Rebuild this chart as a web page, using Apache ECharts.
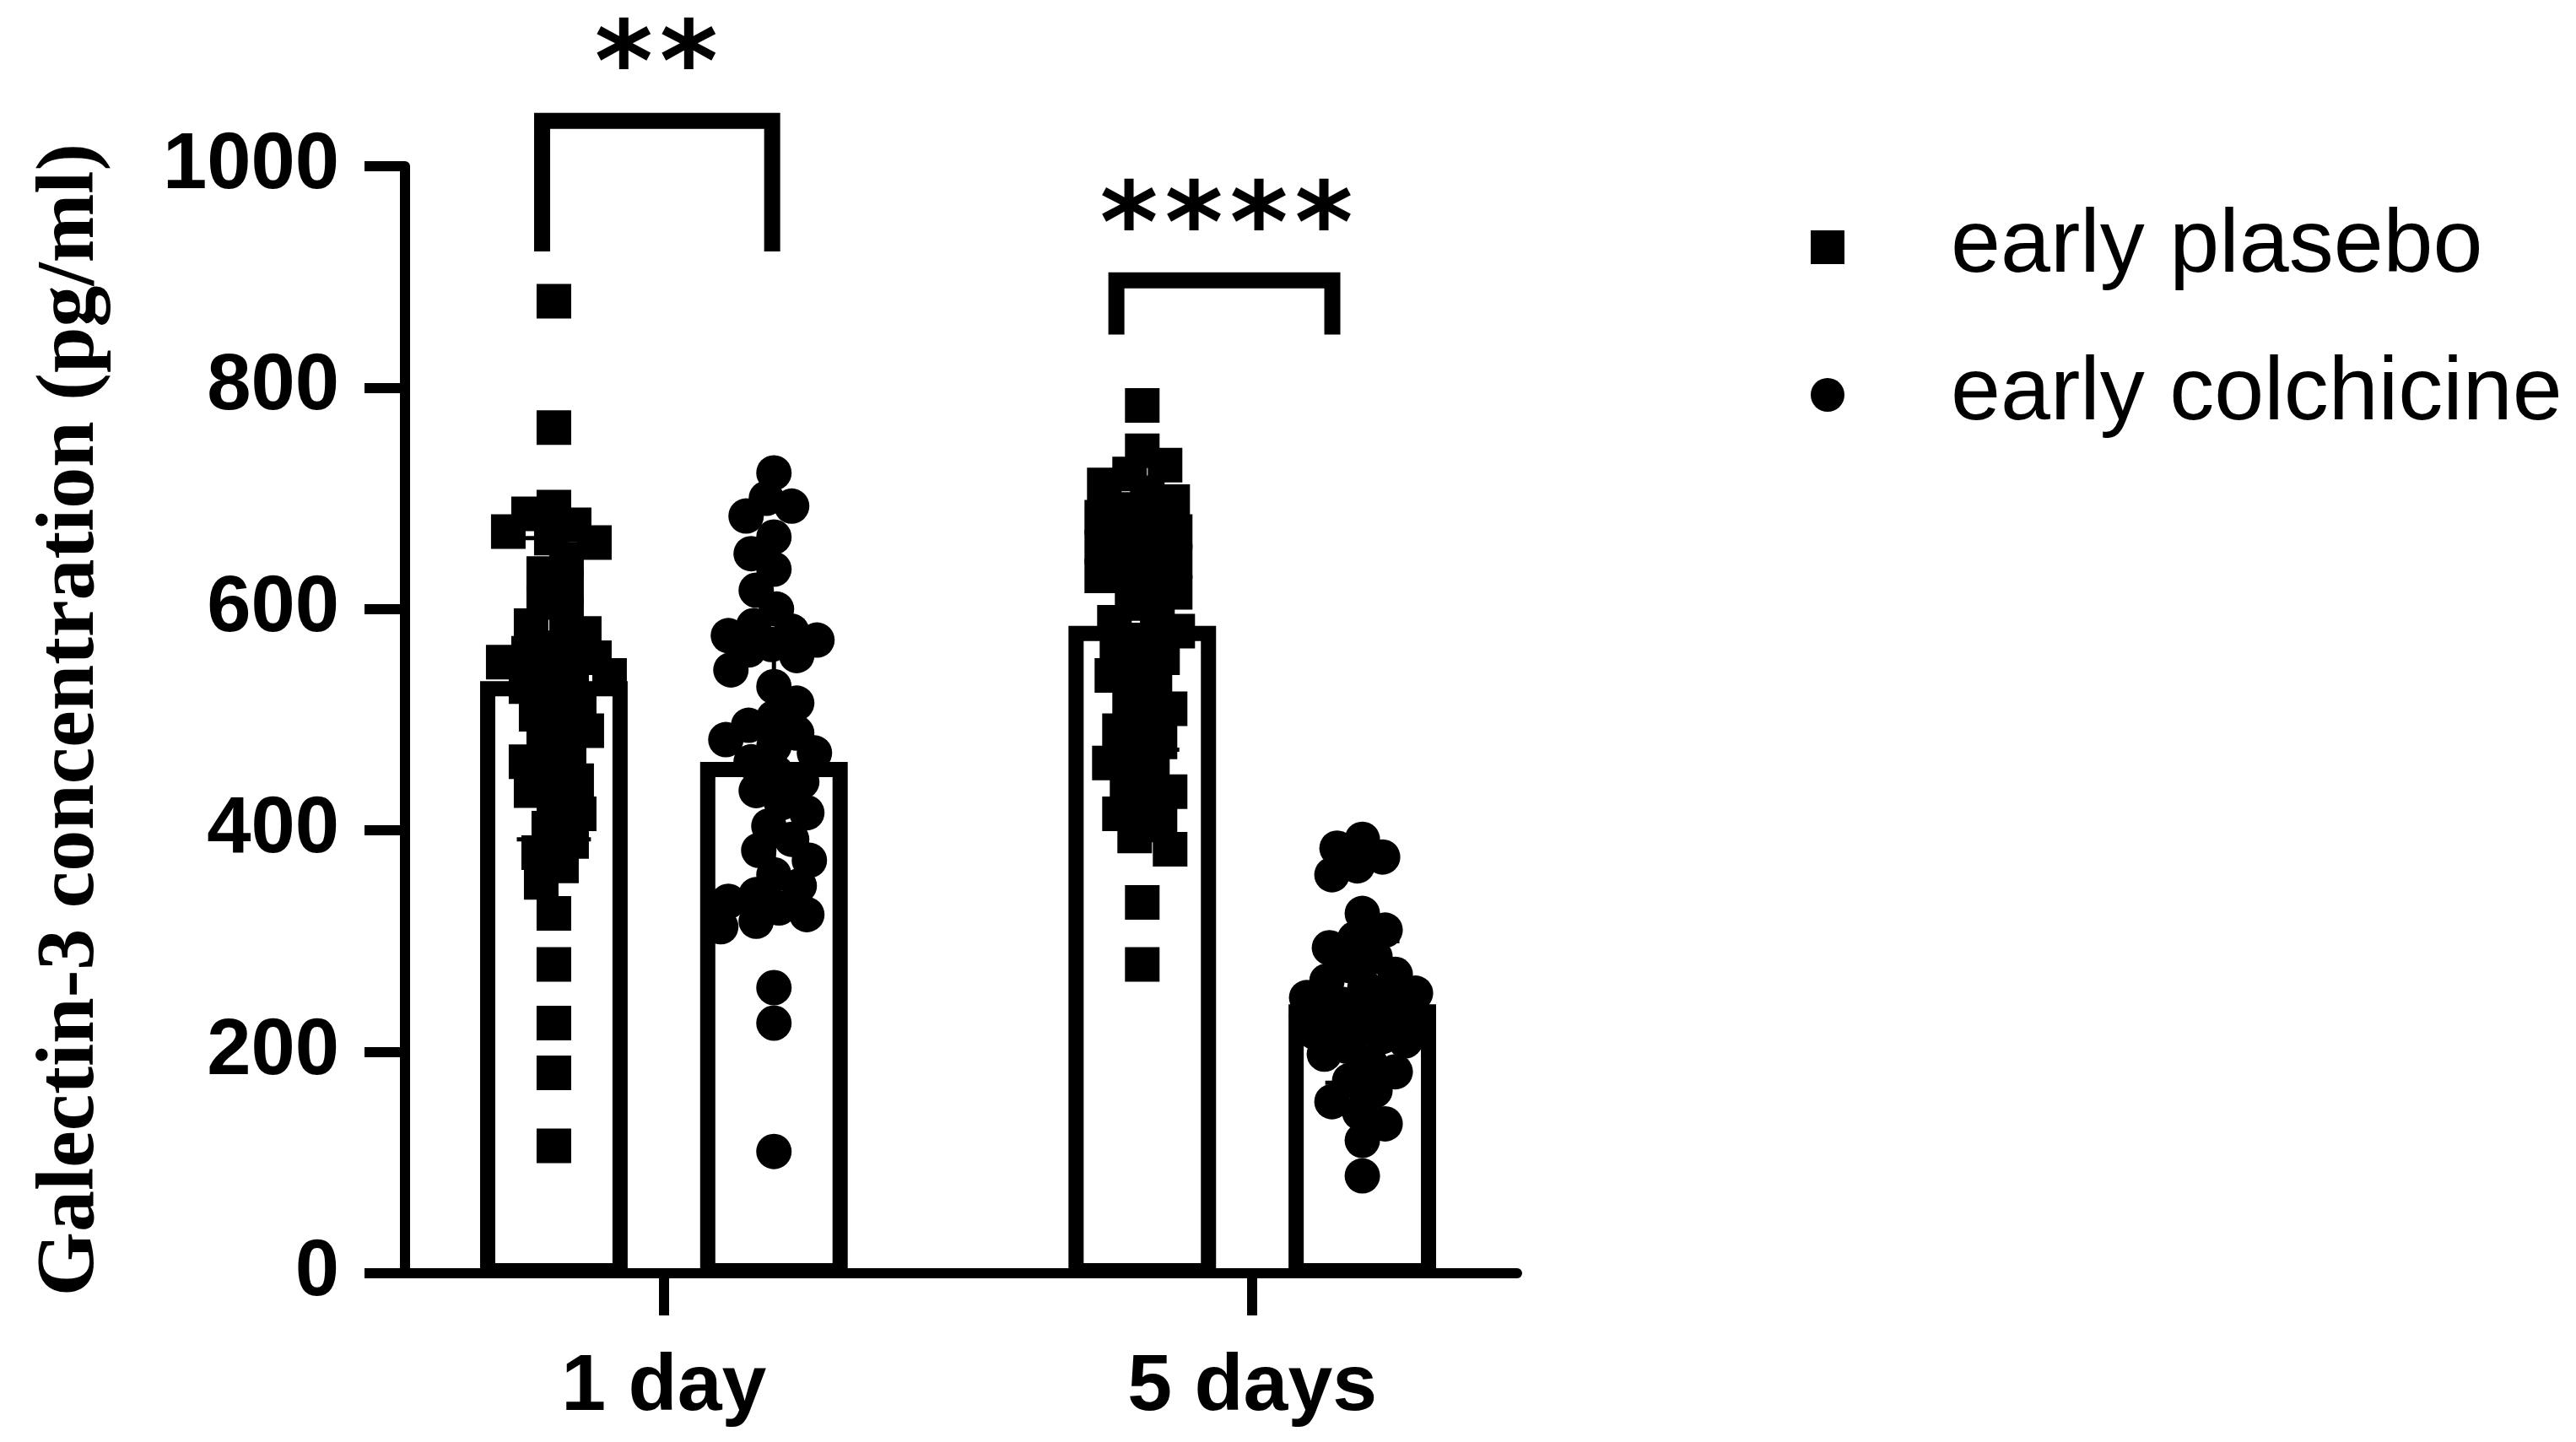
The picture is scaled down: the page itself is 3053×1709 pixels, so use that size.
<!DOCTYPE html>
<html>
<head>
<meta charset="utf-8">
<script src="https://cdn.jsdelivr.net/npm/echarts@6/dist/echarts.min.js"></script>
<style>
html,body{margin:0;padding:0;background:#ffffff;}
#chart{width:3053px;height:1709px;}
</style>
</head>
<body>
<div id="chart"></div>
<script>
// ---------------- data ----------------
const categories = ['1 day', '5 days'];
const groupNames = ['early plasebo', 'early colchicine'];
const yTicks = [0, 200, 400, 600, 800, 1000];

const plaseboMean = [528, 578];
const plaseboSD = [136, 105];
const colchicineMean = [455, 236];
const colchicineSD = [118, 64];

const plasebo1Day = [878, 764, 692, 686, 676, 670, 664, 660, 645, 632, 620, 606, 595, 585, 578, 565, 560, 556, 552, 548, 545, 540, 530, 522, 515, 505, 498, 490, 480, 470, 462, 452, 445, 436, 425, 415, 402, 390, 380, 368, 353, 325, 279, 226, 181, 115];
const colchicine1Day = [723, 700, 693, 684, 665, 650, 636, 617, 600, 585, 580, 576, 572, 568, 563, 558, 545, 530, 515, 502, 495, 488, 482, 476, 470, 462, 452, 444, 436, 425, 416, 404, 392, 382, 373, 360, 350, 342, 336, 330, 324, 318, 313, 258, 226, 110];
const plasebo5Days = [784, 743, 730, 722, 712, 705, 697, 690, 683, 676, 670, 663, 656, 650, 643, 636, 630, 622, 615, 605, 596, 588, 580, 572, 564, 556, 548, 540, 530, 520, 510, 500, 490, 480, 470, 461, 452, 443, 435, 425, 415, 405, 395, 383, 335, 279];
const colchicine5Days = [392, 384, 376, 368, 360, 325, 310, 302, 294, 286, 278, 270, 264, 258, 253, 249, 246, 243, 240, 238, 236, 234, 232, 230, 228, 226, 224, 221, 218, 214, 210, 205, 198, 190, 182, 174, 165, 155, 145, 135, 120, 88];

const significance = ['**', '****'];

// ---------------- layout / style ----------------
const CAT_POS = [1, 2];
const GROUP_OFFSET = [-0.187, 0.187];
const BAR_HALF = 0.1125;
const CAP_HALF = 0.063;
const BRACKETS = [
  { x1: 0.793, x2: 1.184, top: 1041, bottom: 923, starX: 0.987, starY: 1109 },
  { x1: 1.769, x2: 2.136, top: 897, bottom: 848, starX: 1.956, starY: 964 }
];
const STAR_DY = 31;
const STAR_SPACING = 77;

const chart = echarts.init(document.getElementById('chart'), null, { renderer: 'canvas' });

const barData = [];
for (let c = 0; c < categories.length; c++) {
  barData.push([CAT_POS[c] + GROUP_OFFSET[0], plaseboMean[c], plaseboSD[c]]);
  barData.push([CAT_POS[c] + GROUP_OFFSET[1], colchicineMean[c], colchicineSD[c]]);
}

function renderBar(params, api) {
  const x = api.value(0), m = api.value(1);
  const bl = api.coord([x - BAR_HALF, 0]);
  const tr = api.coord([x + BAR_HALF, m]);
  const bottom = bl[1] - 3;
  return {
    type: 'rect',
    shape: { x: bl[0], y: tr[1], width: tr[0] - bl[0], height: bottom - tr[1] },
    style: { fill: '#ffffff', stroke: '#000000', lineWidth: 18 }
  };
}

function renderErr(params, api) {
  const x = api.value(0), m = api.value(1), sd = api.value(2);
  const lo = api.coord([x, m - sd]);
  const hi = api.coord([x, m + sd]);
  const cl = api.coord([x - CAP_HALF, m])[0];
  const cr = api.coord([x + CAP_HALF, m])[0];
  const st = { stroke: '#000000', lineWidth: 5 };
  return {
    type: 'group',
    children: [
      { type: 'line', shape: { x1: lo[0], y1: lo[1], x2: hi[0], y2: hi[1] }, style: st },
      { type: 'line', shape: { x1: cl, y1: lo[1], x2: cr, y2: lo[1] }, style: st },
      { type: 'line', shape: { x1: cl, y1: hi[1], x2: cr, y2: hi[1] }, style: st }
    ]
  };
}

function renderBracket(params, api) {
  const b = BRACKETS[params.dataIndex];
  const p1 = api.coord([b.x1, b.bottom]);
  const p2 = api.coord([b.x1, b.top]);
  const p3 = api.coord([b.x2, b.top]);
  const p4 = api.coord([b.x2, b.bottom]);
  const s = api.coord([b.starX, b.starY]);
  const label = significance[params.dataIndex];
  const children = [
    { type: 'polyline', shape: { points: [p1, p2, p3, p4] },
      style: { stroke: '#000000', lineWidth: 19, fill: null, lineJoin: 'miter' } }
  ];
  const n = label.length;
  for (let k = 0; k < n; k++) {
    children.push({ type: 'text', style: {
      x: s[0] + (k - (n - 1) / 2) * STAR_SPACING, y: s[1] + STAR_DY, text: label.charAt(k),
      textAlign: 'center', textVerticalAlign: 'middle', fill: '#000000',
      font: 'bold 132px "DejaVu Sans"' } });
  }
  return { type: 'group', children: children };
}

const baseOption = {
  animation: false,
  backgroundColor: '#ffffff',
  grid: { left: 480, right: 1255, top: 197, bottom: 200, containLabel: false },
  legend: {
    orient: 'vertical', left: 2141, top: 235, itemGap: 69,
    itemWidth: 40, itemHeight: 40, selectedMode: false,
    data: [{ name: groupNames[0], icon: 'rect' }, { name: groupNames[1], icon: 'circle' }],
    itemStyle: { color: '#000000' },
    textStyle: { fontFamily: 'Liberation Sans', fontSize: 106, lineHeight: 106, color: '#000000', padding: [0, 0, 0, 121] }
  },
  xAxis: {
    type: 'value', min: 0.56, max: 2.45,
    axisLine: { show: true, onZero: false, lineStyle: { color: '#000000', width: 12 } },
    axisTick: { show: true, customValues: CAT_POS, length: 50, lineStyle: { color: '#000000', width: 12 } },
    axisLabel: { show: true, customValues: CAT_POS, margin: 88, color: '#000000',
      fontFamily: 'Liberation Sans', fontWeight: 'bold', fontSize: 95,
      formatter: function (v) { const i = CAT_POS.indexOf(Math.round(v)); return i >= 0 ? categories[i] : ''; } },
    splitLine: { show: false }
  },
  yAxis: {
    type: 'value', min: yTicks[0], max: yTicks[yTicks.length - 1], interval: yTicks[1] - yTicks[0],
    name: 'Galectin-3 concentration (pg/ml)', nameLocation: 'middle', nameRotate: 90, nameGap: 346,
    nameTextStyle: { fontFamily: 'Liberation Serif', fontWeight: 'bold', fontSize: 98, color: '#000000' },
    axisLine: { show: true, lineStyle: { color: '#000000', width: 12 } },
    axisTick: { show: true, length: 48, lineStyle: { color: '#000000', width: 12 } },
    axisLabel: { margin: 78, color: '#000000', fontFamily: 'Liberation Sans', fontWeight: 'bold', fontSize: 94,
      formatter: function (v) { return String(v); } },
    splitLine: { show: false }
  },
  series: [
    { type: 'custom', name: 'bars', z: 2, renderItem: renderBar, data: barData, silent: true },
    { type: 'scatter', name: groupNames[0], symbol: 'rect', symbolSize: 41, z: 3,
      itemStyle: { color: '#000000', opacity: 1 }, data: [] },
    { type: 'scatter', name: groupNames[1], symbol: 'circle', symbolSize: 42, z: 3,
      itemStyle: { color: '#000000', opacity: 1 }, data: [] },
    { type: 'custom', name: 'err', z: 4, renderItem: renderErr, data: barData, silent: true },
    { type: 'custom', name: 'brackets', z: 5, renderItem: renderBracket, data: BRACKETS.map(function (b) { return [b.starX, b.starY]; }), silent: true, clip: false }
  ]
};

chart.setOption(baseOption);

function swarm(values, xCenter, size) {
  const c = chart.convertToPixel({ gridIndex: 0 }, [xCenter, 0])[0];
  const placed = [];
  const order = values.map(function (v, i) { return i; }).sort(function (a, b) { return values[b] - values[a]; });
  const out = new Array(values.length);
  const dmin = size * 0.74, maxOff = 66, step = 3;
  order.forEach(function (i, n) {
    const py = chart.convertToPixel({ gridIndex: 0 }, [xCenter, values[i]])[1];
    let best = null, bestCand = 0, bestScore = -1;
    const signs = (n % 2) ? [-1, 1] : [1, -1];
    for (let k = 0; k <= maxOff / step && best === null; k++) {
      const ss = k === 0 ? [1] : signs;
      for (let j = 0; j < ss.length; j++) {
        const off = ss[j] * k * step;
        let md = Infinity;
        for (let q = 0; q < placed.length; q++) {
          const d = Math.hypot(placed[q][0] - (c + off), placed[q][1] - py);
          if (d < md) md = d;
        }
        if (md >= dmin) { best = off; break; }
        if (md > bestScore) { bestScore = md; bestCand = off; }
      }
    }
    if (best === null) best = bestCand;
    placed.push([c + best, py]);
    out[i] = [chart.convertFromPixel({ gridIndex: 0 }, [c + best, py])[0], values[i]];
  });
  return out;
}

const plaseboPoints = swarm(plasebo1Day, CAT_POS[0] + GROUP_OFFSET[0], 41)
  .concat(swarm(plasebo5Days, CAT_POS[1] + GROUP_OFFSET[0], 41));
const colchicinePoints = swarm(colchicine1Day, CAT_POS[0] + GROUP_OFFSET[1], 42)
  .concat(swarm(colchicine5Days, CAT_POS[1] + GROUP_OFFSET[1], 42));

chart.setOption({
  series: [
    {},
    { data: plaseboPoints },
    { data: colchicinePoints },
    {},
    {}
  ]
});
</script>
</body>
</html>
